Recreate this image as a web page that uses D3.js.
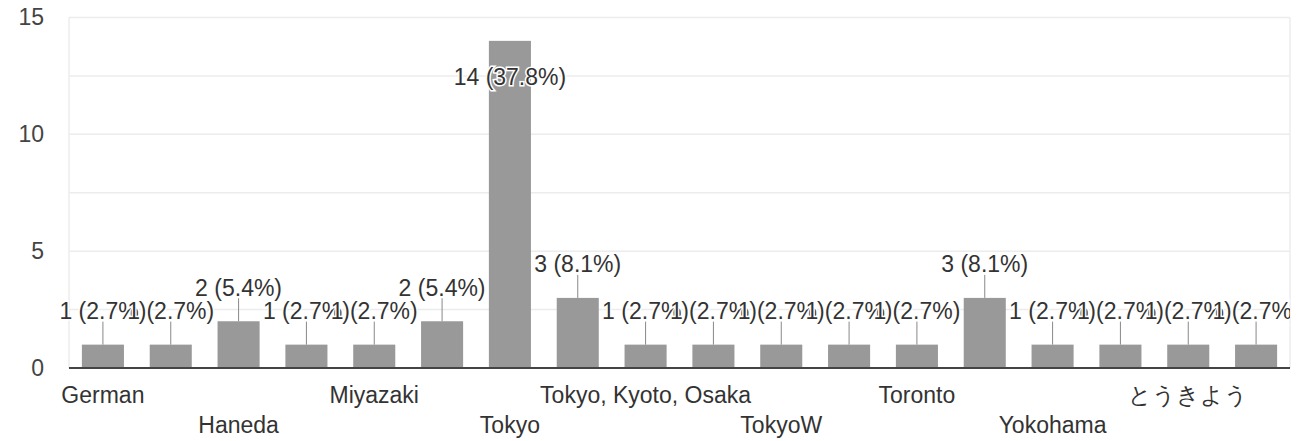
<!DOCTYPE html>
<html>
<head>
<meta charset="utf-8">
<script src="https://cdn.jsdelivr.net/npm/d3@7"></script>
<style>
  html, body { margin: 0; padding: 0; background: #fff; }
  text { font-family: "Liberation Sans", Arial, sans-serif; }
</style>
</head>
<body>
<svg id="chart" width="1312" height="441"></svg>
<script>
// answers, in the order the chart shows them ("" = name not printed on the axis)
const categories = ["German", "", "Haneda", "", "Miyazaki", "", "Tokyo", "",
  "Tokyo, Kyoto, Osaka", "", "TokyoW", "", "Toronto", "", "Yokohama", "", "とうきよう", ""];
const counts = [1, 1, 2, 1, 1, 2, 14, 3, 1, 1, 1, 1, 1, 3, 1, 1, 1, 1];
const yTicks = [0, 5, 10, 15];

const total = d3.sum(counts);
const pct = d3.format(".1%");
const rows = counts.map((v, i) => ({ i, v, name: categories[i] }));

const svg = d3.select("#chart");
const plotLeft = 69, plotRight = 1290, plotTop = 17.5, plotBottom = 368;
const fontSize = "23px";

const x = d3.scaleBand()
    .domain(d3.range(counts.length))
    .range([plotLeft, plotRight])
    .paddingInner(0.38)
    .paddingOuter(0.19);

const y = d3.scaleLinear()
    .domain([0, 15])
    .range([plotBottom, plotTop]);

const cx = (d) => x(d.i) + x.bandwidth() / 2;

// annotations get cut at the right edge of the plot
svg.append("defs").append("clipPath")
    .attr("id", "annClip")
  .append("rect")
    .attr("x", 0).attr("y", 0)
    .attr("width", plotRight).attr("height", plotBottom);

// gridlines every 2.5
svg.append("g")
    .selectAll("line")
    .data(d3.range(2.5, 15.01, 2.5))
    .enter()
    .append("line")
      .attr("x1", plotLeft).attr("x2", plotRight)
      .attr("y1", (d) => y(d)).attr("y2", (d) => y(d))
      .style("stroke", "#ececec")
      .style("stroke-width", 1.5);

// plot frame sides
svg.append("g")
    .selectAll("line")
    .data([plotLeft, plotRight])
    .enter()
    .append("line")
      .attr("x1", (d) => d).attr("x2", (d) => d)
      .attr("y1", plotTop).attr("y2", plotBottom)
      .style("stroke", "#ececec")
      .style("stroke-width", 1.5);

// y axis labels
const yAxis = svg.append("g")
    .attr("transform", `translate(${plotLeft - 25},0)`)
    .call(d3.axisLeft(y).tickValues(yTicks).tickSize(0).tickPadding(0));
yAxis.select(".domain").remove();
yAxis.selectAll("text")
    .style("font-family", '"Liberation Sans", Arial, sans-serif')
    .style("font-size", fontSize)
    .attr("fill", "#444");

// bars
svg.append("g")
    .selectAll("rect")
    .data(rows)
    .enter()
    .append("rect")
      .attr("x", (d) => x(d.i))
      .attr("y", (d) => y(d.v))
      .attr("width", x.bandwidth())
      .attr("height", (d) => y(0) - y(d.v))
      .attr("fill", "#999999");

// baseline
svg.append("line")
    .attr("x1", plotLeft).attr("x2", plotRight)
    .attr("y1", y(0)).attr("y2", y(0))
    .style("stroke", "#444")
    .style("stroke-width", 2);

// annotations: leader + label above the bar, or inside if it wouldn't fit
const inside = (d) => y(d.v) - 48 < 0;
const ann = svg.append("g")
    .attr("clip-path", "url(#annClip)")
    .selectAll("g")
    .data(rows)
    .enter()
    .append("g");

ann.filter((d) => !inside(d))
    .append("line")
      .attr("x1", cx)
      .attr("x2", cx)
      .attr("y1", (d) => y(d.v))
      .attr("y2", (d) => y(d.v) - 23)
      .style("stroke", "#888")
      .style("stroke-width", 1);

ann.append("text")
    .attr("x", cx)
    .attr("y", (d) => inside(d) ? y(d.v) + 44 : y(d.v) - 25.5)
    .attr("text-anchor", "middle")
    .style("font-size", fontSize)
    .style("fill", "#333")
    .style("stroke", "#fff")
    .style("stroke-width", 3)
    .style("paint-order", "stroke")
    .text((d) => `${d.v} (${pct(d.v / total)})`);

// x labels, staggered on two rows
svg.append("g")
    .selectAll("text")
    .data(rows.filter((d) => d.name !== ""))
    .enter()
    .append("text")
      .attr("x", cx)
      .attr("y", (d) => (d.i / 2) % 2 === 0 ? 403 : 433)
      .attr("text-anchor", "middle")
      .style("font-size", fontSize)
      .style("fill", "#333")
      .text((d) => d.name);
</script>
</body>
</html>
